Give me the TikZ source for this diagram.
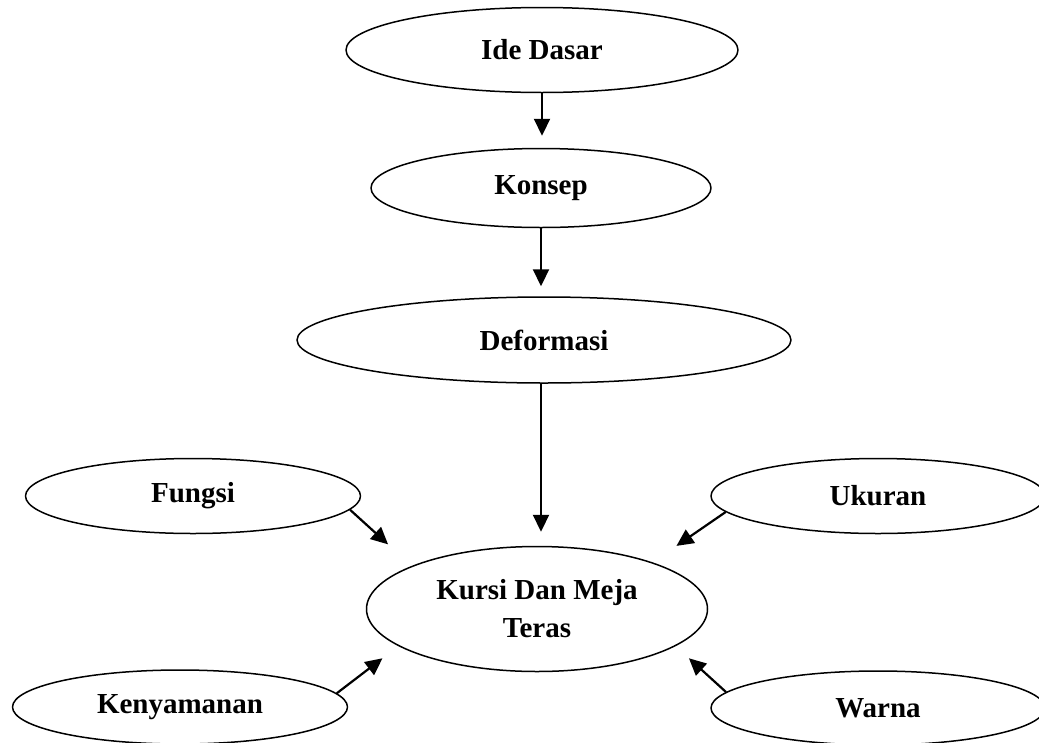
\documentclass[tikz,border=0pt]{standalone}
\usepackage{fontspec}
\setmainfont{Liberation Serif}
\usetikzlibrary{shapes.geometric,arrows.meta}
\begin{document}
\begin{tikzpicture}[x=1pt, y=-1pt, font=\bfseries\fontsize{29}{38}\selectfont, line join=round,
		>={Triangle[length=17pt,width=16pt]},
		elips/.style={ellipse, draw, line width=1.5pt, inner sep=0pt, align=center},
		panah/.style={->, line width=2.2pt}]
			\useasboundingbox (0,0) rectangle (1039,742);
			\clip (0,0) rectangle (1039,742);
			\node[elips, minimum width=392, minimum height=85] (ide) at (542,50) {Ide Dasar};
			\node[elips, minimum width=340, minimum height=79] (konsep) at (541,188) {Konsep};
			\node[elips, minimum width=494, minimum height=86] (deformasi) at (544,340) {Deformasi};
			\node[elips, minimum width=341, minimum height=125] (kursi) at (537,609) {Kursi Dan Meja\\Teras};
			\node[elips, minimum width=335, minimum height=75] (fungsi) at (193,496) {Fungsi};
			\node[elips, minimum width=334, minimum height=75] (ukuran) at (878,496) {Ukuran};
			\node[elips, minimum width=335, minimum height=74] (kenyamanan) at (180,707) {Kenyamanan};
			\node[elips, minimum width=334, minimum height=74] (warna) at (878,708) {Warna};
			\draw[panah, shorten >=12pt] (ide.south) -- (ide.south |- konsep.north);
			\draw[panah, shorten >=10pt] (konsep.south) -- (konsep.south |- deformasi.north);
			\draw[panah, shorten >=14pt] (konsep.south |- deformasi.south) -- (konsep.south |- kursi.north);
			\draw[panah, shorten >=32pt] (fungsi.-5) -- (kursi.161);
			\draw[panah, shorten >=29pt] (ukuran.186) -- (kursi.22);
			\draw[panah, shorten >=20pt] (kenyamanan.5) -- (kursi.195);
			\draw[panah, shorten >=18pt] (warna.174) -- (kursi.-15);
	\end{tikzpicture}
\end{document}
